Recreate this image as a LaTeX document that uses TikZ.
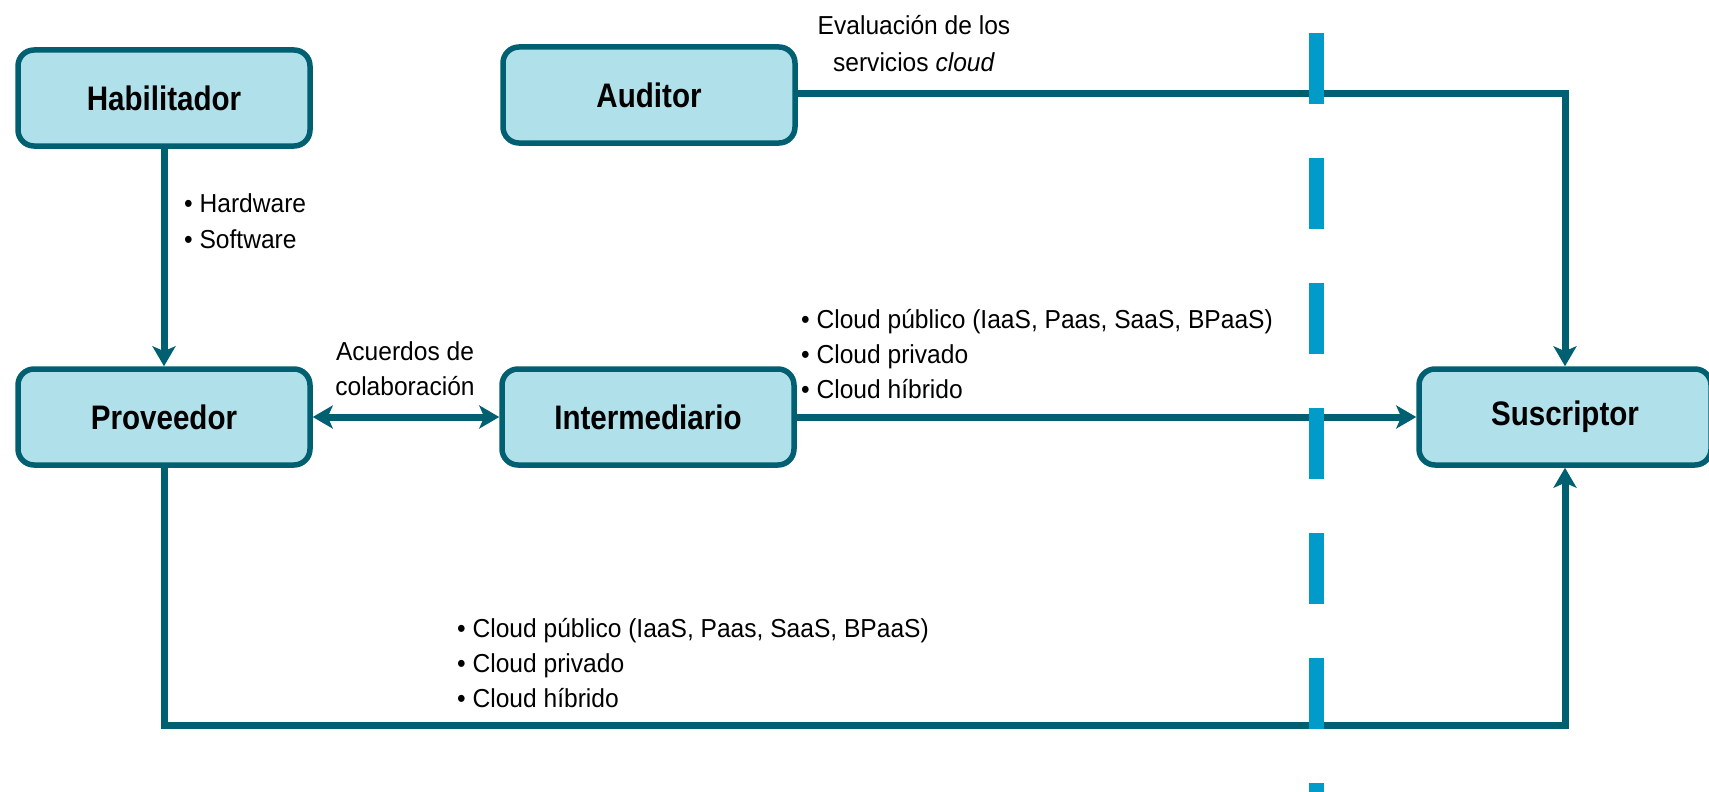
\documentclass[tikz,border=0pt]{standalone}
\usepackage{fontspec}
\setmainfont{Liberation Sans}
\newfontfamily\boxfnt[FakeStretch=0.87]{Liberation Sans}
\newfontfamily\labfnt[FakeStretch=0.945]{Liberation Sans}
\usetikzlibrary{arrows.meta}
\definecolor{boxfill}{RGB}{176,224,233}
\definecolor{lineteal}{RGB}{0,95,112}
\definecolor{dashblue}{RGB}{0,155,200}
\begin{document}
\begin{tikzpicture}[x=1pt,y=-1pt,
  ent/.style={draw=lineteal, fill=boxfill, line width=5.5pt, rounded corners=16pt,
    minimum width=292pt, minimum height=96pt, inner sep=0pt,
    font=\boxfnt\bfseries\fontsize{34}{40}\selectfont},
  conn/.style={draw=lineteal, line width=7pt},
  tipend/.style={-{Stealth[length=20pt,width=23pt,inset=5pt]}},
  tipboth/.style={{Stealth[length=20pt,width=23pt,inset=5pt]}-{Stealth[length=20pt,width=23pt,inset=5pt]}},
  lab/.style={inner sep=0pt, anchor=base west, font=\labfnt\fontsize{26}{31}\selectfont},
  labc/.style={inner sep=0pt, anchor=base, font=\labfnt\fontsize{26}{31}\selectfont},
  boundary/.style={draw=dashblue, line width=15pt, dash pattern=on 71pt off 54pt}
]
\useasboundingbox (0,0) rectangle (1709,792);

% boxes
\node[ent] (hab) at (164,98) {Habilitador};
\node[ent] (aud) at (649,95) {Auditor};
\node[ent] (prov) at (164,417) {Proveedor};
\node[ent] (inter) at (648,417) {Intermediario};
\node[ent] (sus) at (1565,417) {Suscriptor};

% helper coordinates
\coordinate (topc) at (1565,94);
\coordinate (botc) at (1565,725);

% connectors
\draw[conn,tipend] (hab) -- (prov);
\draw[conn,tipboth] (prov) -- (inter);
\draw[conn,tipend] (inter) -- (sus);
\draw[conn,tipend] (aud.east |- topc) -- (topc) -- (sus.north);
\draw[conn,tipend] (prov.south) |- (botc) -- (sus.south);

% boundary
\coordinate (bd1) at (1316,33);
\coordinate (bd2) at (1316,800);
\draw[boundary] (bd1) -- (bd2);

% labels
\node[labc] (ev1) at (914,35) {Evaluación de los};
\node[labc] (ev2) at (914,71) {servicios \textit{cloud}};

\node[labc] (ac1) at (405,360) {Acuerdos de};
\node[labc] (ac2) at (405,395) {colaboración};

\node[lab] (hw) at (184,212) {• Hardware};
\node[lab] (sw) at (184,248) {• Software};

\node[lab] (uc1) at (801,328) {• Cloud público (IaaS, Paas, SaaS, BPaaS)};
\node[lab] (uc2) at (801,363) {• Cloud privado};
\node[lab] (uc3) at (801,398) {• Cloud híbrido};

\node[lab] (lc1) at (457,637) {• Cloud público (IaaS, Paas, SaaS, BPaaS)};
\node[lab] (lc2) at (457,672) {• Cloud privado};
\node[lab] (lc3) at (457,707) {• Cloud híbrido};
\end{tikzpicture}
\end{document}
